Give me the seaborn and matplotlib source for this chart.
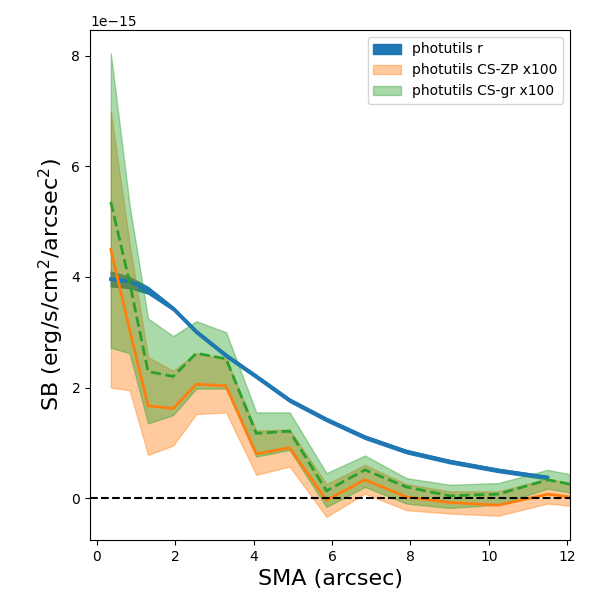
import matplotlib
matplotlib.use('Agg')
from matplotlib import pyplot as plt
import numpy as np
import pandas as pd
import seaborn as sns

# SMA grid (arcsec)
sma = [0.36, 0.84, 1.31, 1.95, 2.54, 3.3, 4.07, 4.92, 5.86, 6.84, 7.9, 9.0, 10.24, 11.5, 12.07]

# photutils r profile (units of 1e-15), ends at 11.5 arcsec
r_sb = [3.96, 3.92, 3.76, 3.43, 3.01, 2.58, 2.2, 1.77, 1.42, 1.1, 0.84, 0.66, 0.5, 0.37]
r_lo = [3.83, 3.80, 3.70, 3.40, 2.98, 2.55, 2.17, 1.74, 1.39, 1.07, 0.81, 0.63, 0.47, 0.34]
r_hi = [4.10, 4.00, 3.82, 3.46, 3.04, 2.61, 2.23, 1.80, 1.45, 1.13, 0.87, 0.69, 0.53, 0.40]

# CS-ZP x100
zp_sb = [4.5, 3.05, 1.67, 1.62, 2.06, 2.03, 0.8, 0.91, -0.04, 0.33, 0.02, -0.08, -0.13, 0.07, 0.02]
zp_lo = [2.0, 1.95, 0.78, 0.95, 1.52, 1.55, 0.42, 0.57, -0.34, 0.08, -0.22, -0.28, -0.32, -0.1, -0.14]
zp_hi = [7.0, 4.6, 2.55, 2.3, 2.62, 2.52, 1.22, 1.24, 0.25, 0.6, 0.25, 0.12, 0.12, 0.35, 0.27]

# CS-gr x100
gr_sb = [5.36, 3.9, 2.29, 2.2, 2.62, 2.52, 1.17, 1.21, 0.13, 0.51, 0.2, 0.04, 0.07, 0.33, 0.25]
gr_lo = [2.72, 2.62, 1.35, 1.5, 1.98, 1.98, 0.75, 0.87, -0.16, 0.2, -0.1, -0.18, -0.12, 0.17, 0.1]
gr_hi = [8.05, 5.3, 3.25, 2.93, 3.2, 3.0, 1.55, 1.55, 0.45, 0.77, 0.36, 0.24, 0.27, 0.51, 0.43]

scale = 1e-15
x_r = sma[:len(r_sb)]

df_r = pd.DataFrame({'sma': x_r, 'sb': np.array(r_sb) * scale})
df_zp = pd.DataFrame({'sma': sma, 'sb': np.array(zp_sb) * scale})
df_gr = pd.DataFrame({'sma': sma, 'sb': np.array(gr_sb) * scale})

fig, ax = plt.subplots(figsize=(6, 6), dpi=100)
plt.subplots_adjust(left=0.15, right=0.95, top=0.95, bottom=0.1)

ax.fill_between(x_r, np.array(r_lo) * scale, np.array(r_hi) * scale, color='C0', label='photutils r')
ax.fill_between(sma, np.array(zp_lo) * scale, np.array(zp_hi) * scale, color='C1', alpha=0.4,
                label='photutils CS-ZP x100')
ax.fill_between(sma, np.array(gr_lo) * scale, np.array(gr_hi) * scale, color='C2', alpha=0.4,
                label='photutils CS-gr x100')

sns.lineplot(data=df_r, x='sma', y='sb', color='C0', lw=2.5, ax=ax, legend=False)
sns.lineplot(data=df_zp, x='sma', y='sb', color='C1', lw=2, ax=ax, legend=False)
sns.lineplot(data=df_gr, x='sma', y='sb', color='C2', lw=2, ls='--', ax=ax, legend=False)

ax.axhline(0, color='k', ls='--', lw=1.5)

ax.set_xlim(-0.17, 12.07)
ax.set_xlabel('SMA (arcsec)', fontsize=16)
ax.set_ylabel('SB (erg/s/cm$^2$/arcsec$^2$)', fontsize=16)
ax.legend(loc='upper right')

plt.savefig('out.png')
